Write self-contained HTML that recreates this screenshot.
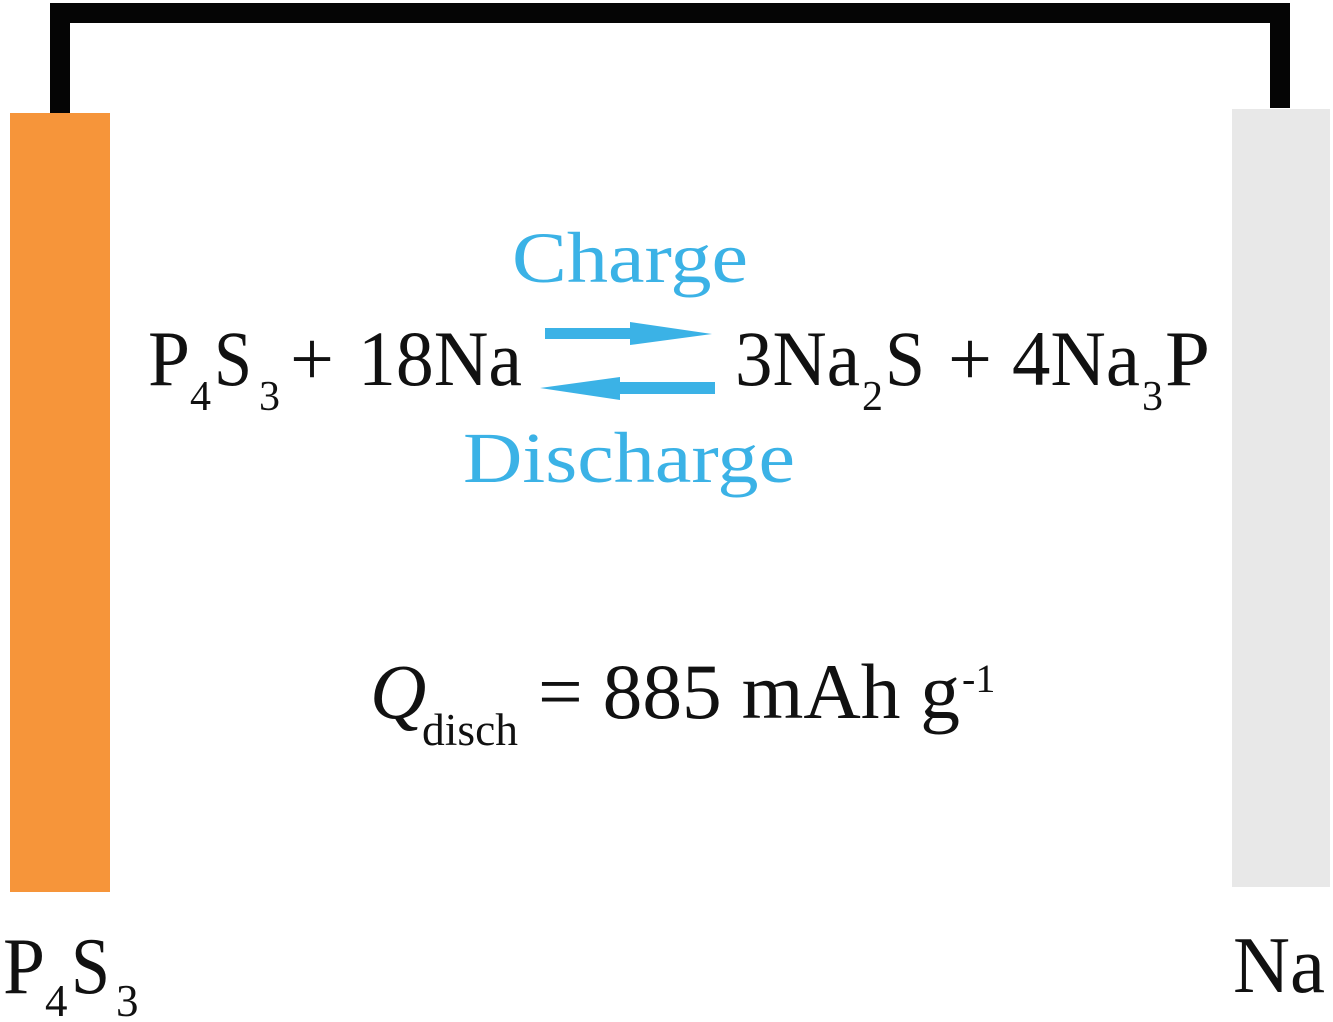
<!DOCTYPE html>
<html><head><meta charset="utf-8"><style>html,body{margin:0;padding:0;background:#fff}svg{display:block}</style></head>
<body>
<svg width="1333" height="1022" viewBox="0 0 1333 1022" xmlns="http://www.w3.org/2000/svg" font-family="'Liberation Serif', serif">
<rect x="0" y="0" width="1333" height="1022" fill="#fff"/>
<polyline points="60,113 60,13 1280,13 1280,108" fill="none" stroke="#050505" stroke-width="20" stroke-linejoin="miter"/>
<rect x="10" y="113" width="100" height="779" fill="#f6953a"/>
<rect x="1232" y="109" width="98" height="778" fill="#e8e8e8"/>

<g fill="#3bb2e6" font-size="72">
<text x="512" y="282" textLength="236" lengthAdjust="spacingAndGlyphs">Charge</text>
<text x="463" y="482" textLength="332" lengthAdjust="spacingAndGlyphs">Discharge</text>
<polygon points="545,328 630,328 630,322 712,334 630,345 630,339 545,339"/>
<polygon points="715,382 620,382 620,377 540,388 620,400 620,394 715,394"/>
</g>

<g fill="#111" font-size="78">
<text x="148" y="385" textLength="42" lengthAdjust="spacingAndGlyphs">P</text>
<text x="190" y="410" font-size="42">4</text>
<text x="214" y="385" textLength="38" lengthAdjust="spacingAndGlyphs">S</text>
<text x="259" y="410" font-size="42">3</text>
<text x="290" y="385">+</text>
<text x="358" y="385" textLength="164" lengthAdjust="spacingAndGlyphs">18Na</text>

<text x="735" y="385" textLength="125" lengthAdjust="spacingAndGlyphs">3Na</text>
<text x="862" y="410" font-size="42">2</text>
<text x="885" y="385" textLength="40" lengthAdjust="spacingAndGlyphs">S</text>
<text x="948" y="385">+</text>
<text x="1012" y="385" textLength="128" lengthAdjust="spacingAndGlyphs">4Na</text>
<text x="1142" y="410" font-size="42">3</text>
<text x="1165" y="385" textLength="45" lengthAdjust="spacingAndGlyphs">P</text>

<text x="370" y="718" font-style="italic">Q</text>
<text x="422" y="745" font-size="45" textLength="96" lengthAdjust="spacingAndGlyphs">disch</text>
<text x="538" y="718" textLength="422" lengthAdjust="spacingAndGlyphs">= 885 mAh g</text>
<text x="962" y="692" font-size="40">-1</text>

<text x="3" y="993" font-size="80" textLength="42" lengthAdjust="spacingAndGlyphs">P</text>
<text x="45" y="1016" font-size="45">4</text>
<text x="71" y="993" font-size="80" textLength="39" lengthAdjust="spacingAndGlyphs">S</text>
<text x="116" y="1016" font-size="45">3</text>
<text x="1233" y="992" font-size="80" textLength="92" lengthAdjust="spacingAndGlyphs">Na</text>
</g>
</svg>
</body></html>
